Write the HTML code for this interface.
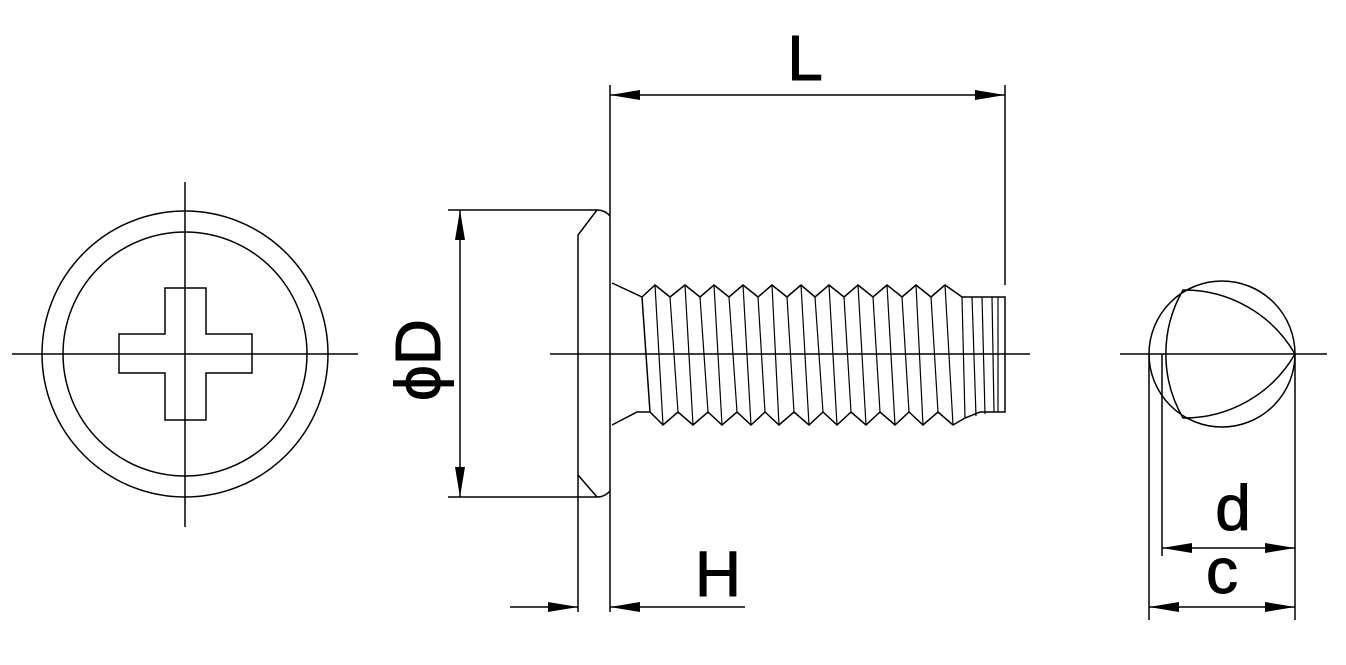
<!DOCTYPE html>
<html><head><meta charset="utf-8"><style>
html,body{margin:0;padding:0;background:#fff;}
svg{display:block;}
text{font-family:"Liberation Sans",Arial,sans-serif;fill:#000;stroke:#000;stroke-width:1;}
</style></head><body>
<svg width="1346" height="665" viewBox="0 0 1346 665" xmlns="http://www.w3.org/2000/svg">
<defs>
<marker id="a" viewBox="0 0 30 10" refX="30" refY="5" markerWidth="30" markerHeight="10" markerUnits="userSpaceOnUse" orient="auto-start-reverse">
<path d="M0,0 L30,5 L0,10 Z" fill="#000"/>
</marker>
</defs>
<g stroke="#000" stroke-width="1.5" fill="none">
<circle cx="185" cy="354" r="143"/>
<circle cx="185" cy="354" r="122"/>
<path d="M165,288 H206 V334 H252 V373 H206 V420 H165 V373 H119 V334 H165 Z"/>
<line x1="12" y1="354" x2="358" y2="354"/>
<line x1="185" y1="182" x2="185" y2="527"/>

<path d="M448,210 H597 Q605,210 610,216"/>
<path d="M597,210 L578,235 V475 L597,497"/>
<path d="M448,497 H597 Q605,497 610,491"/>
<line x1="610" y1="85" x2="610" y2="612"/>
<line x1="578" y1="475" x2="578" y2="612"/>
<line x1="1005" y1="85" x2="1005" y2="285"/>
<polyline points="612,283 642,297 655,285 670,297 685,285 700,297 714,285 729,297 743,285 758,297 772,285 787,297 801,285 815,297 829,285 844,297 858,285 873,297 887,285 902,297 916,285 931,297 945,285 962,297 1005,297 1005,412 980,412 965,418 953,425 938,412 923,425 909,412 895,425 880,412 866,425 851,412 837,425 823,412 809,425 794,412 779,425 765,412 751,425 737,412 722,425 708,412 693,425 678,412 663,425 650,412 637,412 612,425"/>
<line x1="642" y1="297" x2="650" y2="412"/>
<g stroke-width="1.2">
<line x1="655" y1="285" x2="663" y2="425"/><line x1="670" y1="297" x2="678" y2="412"/>
<line x1="685" y1="285" x2="693" y2="425"/><line x1="700" y1="297" x2="708" y2="412"/>
<line x1="714" y1="285" x2="722" y2="425"/><line x1="729" y1="297" x2="737" y2="412"/>
<line x1="743" y1="285" x2="751" y2="425"/><line x1="758" y1="297" x2="765" y2="412"/>
<line x1="772" y1="285" x2="779" y2="425"/><line x1="787" y1="297" x2="794" y2="412"/>
<line x1="801" y1="285" x2="809" y2="425"/><line x1="815" y1="297" x2="823" y2="412"/>
<line x1="829" y1="285" x2="837" y2="425"/><line x1="844" y1="297" x2="851" y2="412"/>
<line x1="858" y1="285" x2="866" y2="425"/><line x1="873" y1="297" x2="880" y2="412"/>
<line x1="887" y1="285" x2="895" y2="425"/><line x1="902" y1="297" x2="909" y2="412"/>
<line x1="916" y1="285" x2="923" y2="425"/><line x1="931" y1="297" x2="938" y2="412"/>
<line x1="945" y1="285" x2="953" y2="425"/><line x1="962" y1="297" x2="965" y2="418"/>
<line x1="972" y1="297" x2="976" y2="416"/><line x1="982" y1="297" x2="985" y2="414"/>
<line x1="992" y1="297" x2="994" y2="412"/><line x1="998" y1="297" x2="998" y2="412"/>
</g>
<line x1="550" y1="354" x2="1030" y2="354"/>
<line x1="610" y1="95" x2="1005" y2="95" marker-start="url(#a)" marker-end="url(#a)"/>
<line x1="460" y1="210" x2="460" y2="497" marker-start="url(#a)" marker-end="url(#a)"/>
<line x1="510" y1="607" x2="578" y2="607" marker-end="url(#a)"/>
<line x1="745" y1="607" x2="610" y2="607" marker-end="url(#a)"/>

<circle cx="1222" cy="354" r="73"/>
<path d="M1295,354 A128,128 0 0 0 1183,290 A128,128 0 0 0 1183,418 A128,128 0 0 0 1295,354 Z"/>
<line x1="1120" y1="354" x2="1327" y2="354"/>
<line x1="1149" y1="354" x2="1149" y2="620"/>
<line x1="1162" y1="354" x2="1162" y2="556"/>
<line x1="1295" y1="354" x2="1295" y2="620"/>
<line x1="1162" y1="548" x2="1295" y2="548" marker-start="url(#a)" marker-end="url(#a)"/>
<line x1="1149" y1="607" x2="1295" y2="607" marker-start="url(#a)" marker-end="url(#a)"/>
</g>
<text x="805" y="80" font-size="64" text-anchor="middle">L</text>
<text x="718" y="596" font-size="64" text-anchor="middle">H</text>
<text x="1233" y="530" font-size="64" text-anchor="middle">d</text>
<text x="1222" y="593" font-size="64" text-anchor="middle">c</text>
<text transform="translate(440,360) rotate(-90)" font-size="64" text-anchor="middle">ϕD</text>
</svg>
</body></html>
